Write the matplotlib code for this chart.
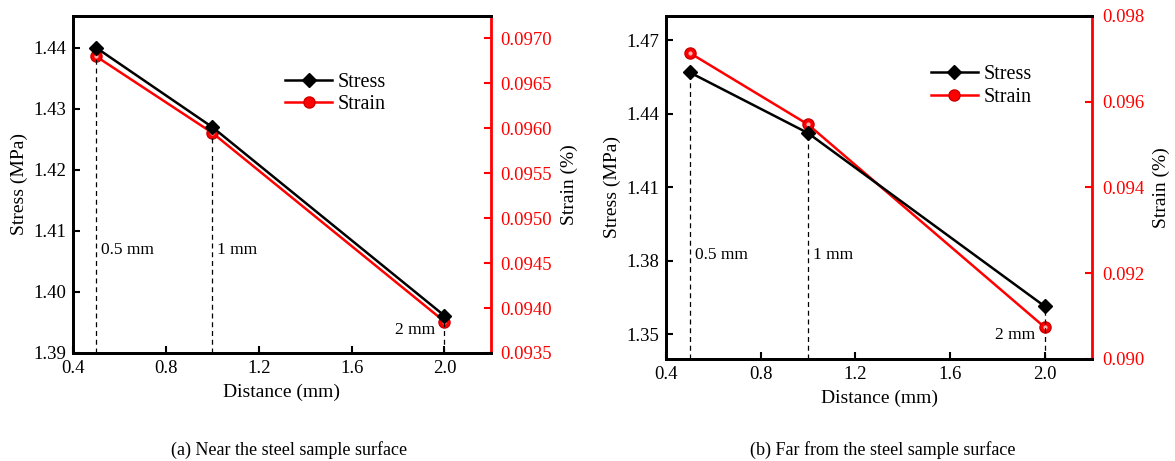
import matplotlib
matplotlib.use('Agg')
import matplotlib.pyplot as plt

plt.rcParams['font.family'] = ['Liberation Serif', 'DejaVu Serif']
plt.rcParams['mathtext.fontset'] = 'stix'

# distances (mm)
distance = [0.5, 1.0, 2.0]

# (a) near the steel sample surface
stress_a = [1.440, 1.427, 1.3961]
strain_a = [0.09680, 0.09595, 0.09385]

# (b) far from the steel sample surface
stress_b = [1.457, 1.4322, 1.3615]
strain_b = [0.09714, 0.09547, 0.09074]

point_labels = ['0.5 mm', '1 mm', '2 mm']
captions = ['(a) Near the steel sample surface', '(b) Far from the steel sample surface']


def draw_panel(ax, stress, strain, ylim1, yticks1, ylim2, yticks2, fmt2, lab_y, lab2_y):
    ax2 = ax.twinx()
    ax.set_xlim(0.4, 2.2)
    ax.set_ylim(*ylim1)
    ax.set_yticks(yticks1)
    ax.set_xticks([0.4, 0.8, 1.2, 1.6, 2.0])
    ax.set_xticklabels(['0.4', '0.8', '1.2', '1.6', '2.0'])
    ax.set_yticklabels(['%.2f' % v for v in yticks1])
    ax2.set_ylim(*ylim2)
    ax2.set_yticks(yticks2)
    ax2.set_yticklabels([fmt2 % v for v in yticks2])

    # dashed guide lines
    for x, s in zip(distance, stress):
        ax.plot([x, x], [ylim1[0], s], ls=(0, (4, 3)), color='black', lw=0.9, zorder=1)

    l1, = ax.plot(distance, stress, color='black', lw=1.8, marker='D', ms=7,
                  mfc='black', mec='black', zorder=3, label='Stress')
    l2, = ax2.plot(distance, strain, color='red', lw=1.8, marker='o', ms=8,
                   mfc='red', mec='#cc0000', zorder=3, label='Strain')
    # small highlight on the strain balls
    ax2.plot(distance, strain, ls='none', marker='o', ms=3, mfc='#ffb0b0', mec='none', zorder=4)

    ax.text(distance[0] + 0.022, lab_y, point_labels[0], fontsize=12.5, va='center', ha='left')
    ax.text(distance[1] + 0.022, lab_y, point_labels[1], fontsize=12.5, va='center', ha='left')
    ax.text(distance[2] - 0.04, lab2_y, point_labels[2], fontsize=12.5, va='center', ha='right')

    ax.set_xlabel('Distance (mm)', fontsize=14, labelpad=5)
    ax.set_ylabel('Stress (MPa)', fontsize=14, labelpad=4)
    ax2.set_ylabel('Strain (%)', fontsize=14, labelpad=6)

    ax.tick_params(axis='both', direction='in', length=5, width=1.5, labelsize=13.5, pad=5)
    ax.tick_params(axis='y', right=False)
    ax2.tick_params(axis='y', direction='in', length=5, width=1.5, labelsize=13.5,
                    colors='red', pad=7)
    for side in ['left', 'bottom', 'top']:
        ax.spines[side].set_linewidth(2)
        ax2.spines[side].set_linewidth(2)
    ax2.spines['right'].set_color('red')
    ax2.spines['right'].set_linewidth(2)
    ax.spines['right'].set_visible(False)
    ax.set_zorder(ax2.get_zorder() + 1)
    ax.patch.set_visible(False)
    return ax2, l1, l2


fig = plt.figure(figsize=(11.75, 4.61), dpi=100)
ax_a = fig.add_axes([0.0621, 0.2343, 0.3557, 0.731])
ax_b = fig.add_axes([0.5668, 0.2213, 0.3626, 0.744])

ax2_a, l1, l2 = draw_panel(ax_a, stress_a, strain_a, (1.39, 1.4452), [1.39, 1.40, 1.41, 1.42, 1.43, 1.44],
                           (0.0935, 0.09725), [0.0935, 0.0940, 0.0945, 0.0950, 0.0955, 0.0960, 0.0965, 0.0970],
                           '%.4f', 1.4068, 1.3938)
ax_a.legend([l1, l2], ['Stress', 'Strain'], loc='upper left', bbox_to_anchor=(0.465, 0.885),
            frameon=False, fontsize=14.5, handlelength=2.3, handletextpad=0.3, labelspacing=0.15)

ax2_b, m1, m2 = draw_panel(ax_b, stress_b, strain_b, (1.34, 1.48), [1.35, 1.38, 1.41, 1.44, 1.47],
                           (0.090, 0.098), [0.090, 0.092, 0.094, 0.096, 0.098],
                           '%.3f', 1.3825, 1.3498)
ax_b.legend([m1, m2], ['Stress', 'Strain'], loc='upper left', bbox_to_anchor=(0.58, 0.91),
            frameon=False, fontsize=14.5, handlelength=2.3, handletextpad=0.3, labelspacing=0.2)

fig.text(0.246, 0.024, captions[0], ha='center', va='center', fontsize=13)
fig.text(0.751, 0.024, captions[1], ha='center', va='center', fontsize=13)

fig.savefig('out.png', dpi=100)
